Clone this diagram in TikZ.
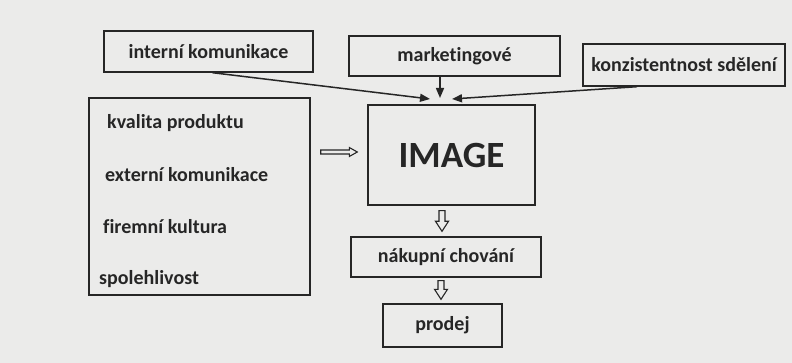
\documentclass[tikz,border=0pt]{standalone}
\usepackage{fontspec}
\setmainfont[Ligatures=CommonOff]{Carlito}
\usetikzlibrary{arrows.meta,calc}
\definecolor{paper}{HTML}{EBEBEA}
\definecolor{ink}{HTML}{262626}
\tikzset{
  box/.style={draw=ink, line width=1.4pt, rectangle, inner sep=0pt, font=\fontsize{20}{24}\selectfont\bfseries, text=ink},
  item/.style={anchor=west, inner sep=0pt, font=\fontsize{20}{24}\selectfont\bfseries, text=ink},
  feed/.style={draw=ink, line width=1.5pt, -{Triangle[length=10pt,width=8pt]}},
  blockarrow/.style n args={3}{draw=ink, line width=1.1pt, line join=miter, to path={
    let \p1=(\tikztostart), \p2=(\tikztotarget), \n1={veclen(\x2-\x1,\y2-\y1)} in
    ($(\p1)!#1!90:(\p2)$) -- ($(\p1)!{\n1-#3}!(\p2)!#1!90:(\p2)$) -- ($(\p1)!{\n1-#3}!(\p2)!#2!90:(\p2)$) --
    (\p2) -- ($(\p1)!{\n1-#3}!(\p2)!#2!-90:(\p2)$) -- ($(\p1)!{\n1-#3}!(\p2)!#1!-90:(\p2)$) --
    ($(\p1)!#1!-90:(\p2)$) -- cycle}},
}
\begin{document}
\begin{tikzpicture}[x=1pt, y=-1pt]
\fill[paper] (0,0) rectangle (792,363);
\useasboundingbox (0,0) rectangle (792,363);
\node[box, minimum width=209pt, minimum height=41pt] (intk) at (208.5,51.5) {interní komunikace};
\node[box, minimum width=211pt, minimum height=40pt] (mark) at (454.5,56) {marketingové};
\node[box, minimum width=202pt, minimum height=42pt] (konz) at (684,65) {konzistentnost sdělení};
\node[box, minimum width=221pt, minimum height=197pt] (left) at (199.5,196.5) {};
\node[box, minimum width=167pt, minimum height=100pt, font=\fontsize{37}{40}\selectfont\bfseries] (img) at (451.5,155) {IMAGE};
\node[box, minimum width=190pt, minimum height=40pt] (nak) at (446,257) {nákupní chování};
\node[box, minimum width=119pt, minimum height=43pt] (prod) at (442.5,325.5) {prodej};
\node[item] (k1) at (107,123) {kvalita produktu};
\node[item] (k2) at (105,175) {externí komunikace};
\node[item] (k3) at (103,227) {firemní kultura};
\node[item] (k4) at (99,279) {spolehlivost};
\coordinate (t1) at (430,99);
\coordinate (t2) at (440,98);
\coordinate (t3) at (452,99);
\draw[feed] ([xshift=4pt]intk.south) -- (t1);
\draw[feed] ([xshift=-14.5pt]mark.south) -- (t2);
\draw[feed] ([xshift=-47pt]konz.south) -- (t3);
\draw[blockarrow={2pt}{4.5pt}{8pt}] ([xshift=10pt,yshift=44.5pt]left.east) to ([xshift=-10pt,yshift=3pt]img.west);
\draw[blockarrow={3pt}{6.5pt}{10pt}] ([xshift=-9.5pt,yshift=-5pt]img.south) to ([xshift=-4pt,yshift=5pt]nak.north);
\draw[blockarrow={3pt}{6.5pt}{10pt}] ([xshift=-5pt,yshift=-3pt]nak.south) to ([xshift=-1.5pt,yshift=4pt]prod.north);
\end{tikzpicture}
\end{document}
